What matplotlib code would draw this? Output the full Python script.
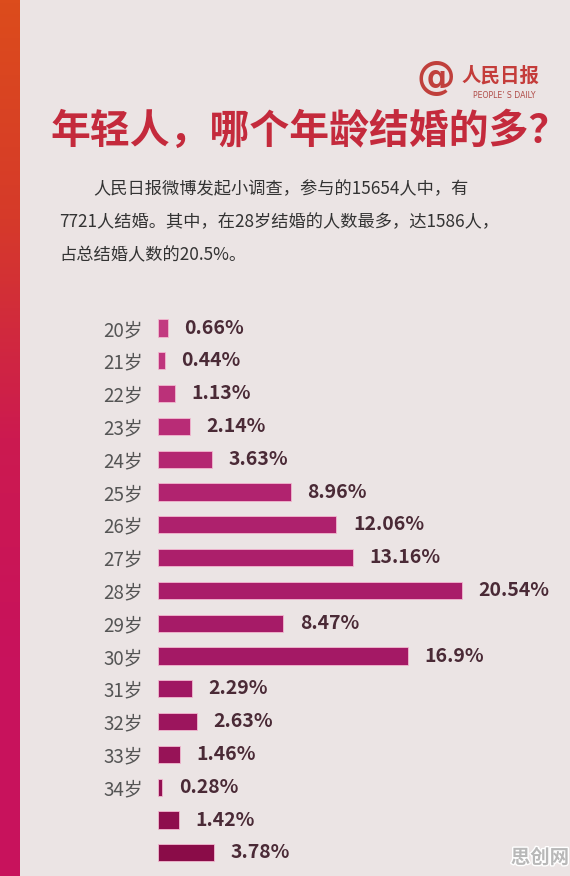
import matplotlib
matplotlib.use("Agg")
import matplotlib.pyplot as plt
import numpy as np
from matplotlib.colors import LinearSegmentedColormap
import matplotlib.patheffects as pe

plt.rcParams['font.family'] = ['Noto Sans CJK SC', 'DejaVu Sans']

categories = ["20岁", "21岁", "22岁", "23岁", "24岁", "25岁", "26岁", "27岁", "28岁",
              "29岁", "30岁", "31岁", "32岁", "33岁", "34岁", "", ""]
values = [0.66, 0.44, 1.13, 2.14, 3.63, 8.96, 12.06, 13.16, 20.54,
          8.47, 16.9, 2.29, 2.63, 1.46, 0.28, 1.42, 3.78]
value_labels = ["0.66%", "0.44%", "1.13%", "2.14%", "3.63%", "8.96%", "12.06%", "13.16%",
                "20.54%", "8.47%", "16.9%", "2.29%", "2.63%", "1.46%", "0.28%", "1.42%", "3.78%"]

title = "年轻人，哪个年龄结婚的多？"
intro_lines = ["人民日报微博发起小调查，参与的15654人中，有",
               "7721人结婚。其中，在28岁结婚的人数最多，达1586人，",
               "占总结婚人数的20.5%。"]

W, H = 570, 876
bg = "#ebe4e4"
fig = plt.figure(figsize=(W / 100, H / 100), dpi=100, facecolor=bg)

def fx(px):
    return px / W

def fy(py):
    return 1 - py / H

# left gradient strip
ax_strip = fig.add_axes([0, 0, fx(20), 1])
strip_cmap = LinearSegmentedColormap.from_list(
    "strip", ["#dc4c1c", "#d63a2a", "#cc1a50", "#c8125c", "#c8125c"])
grad = np.linspace(0, 1, 256).reshape(-1, 1)
ax_strip.imshow(grad, aspect="auto", cmap=strip_cmap, extent=[0, 1, 1, 0])
ax_strip.set_axis_off()

# title
fig.text(fx(310), fy(131), title, ha="center", va="center", fontsize=28.7,
         fontweight="heavy", color="#c42a3c")

# logo
fig.text(fx(436), fy(78), "@", ha="center", va="center", fontsize=28,
         fontweight="bold", color="#c0403c", family=["DejaVu Sans"])
fig.text(fx(500), fy(76), "人民日报", ha="center", va="center", fontsize=14,
         fontweight="heavy", color="#c43c3a")
fig.text(fx(504), fy(96), "PEOPLE' S DAILY", ha="center", va="center", fontsize=5.6,
         color="#b04c48", family=["DejaVu Sans"])

# intro paragraph
fs_intro = 12.4
fig.text(fx(93), fy(189), intro_lines[0], ha="left", va="center", fontsize=fs_intro, color="#333333")
fig.text(fx(59), fy(222), intro_lines[1], ha="left", va="center", fontsize=fs_intro, color="#333333")
fig.text(fx(59), fy(255), intro_lines[2], ha="left", va="center", fontsize=fs_intro, color="#333333")

# bar chart
n = len(values)
row0, row_step = 328, 32.8
bar_left_px, px_per_unit = 158, 14.8
ax_w_px = 400
top_px = row0 - row_step / 2
ax_h_px = row_step * n
ax = fig.add_axes([fx(bar_left_px), fy(top_px + ax_h_px), fx(ax_w_px), ax_h_px / H])
ax.set_facecolor("none")
ax.set_xlim(0, ax_w_px / px_per_unit)
ax.set_ylim(n - 0.5, -0.5)

bar_cmap = LinearSegmentedColormap.from_list("bars", ["#c23a80", "#b0226e", "#a21864", "#8a0c48"])
colors = [bar_cmap(i / (n - 1)) for i in range(n)]
y = np.arange(n)
ax.barh(y, values, height=0.53, color=colors, edgecolor="#f2b8d0", linewidth=0.6)

for yi, v, lab in zip(y, values, value_labels):
    ax.annotate(lab, xy=(v, yi), xytext=(12, 0), textcoords="offset points",
                ha="left", va="center", fontsize=14, fontweight="bold", color="#4a2a36")

ax.set_yticks(y)
ax.set_yticklabels(categories, fontsize=13.5, color="#555555")
ax.tick_params(axis="y", length=0, pad=11)
ax.set_xticks([])
for s in ax.spines.values():
    s.set_visible(False)

# watermark
fig.text(fx(540), fy(858), "思创网", ha="center", va="center", fontsize=14,
         fontweight="bold", color="#b8b8b8",
         path_effects=[pe.withStroke(linewidth=2, foreground="white")])

fig.savefig("out.png", dpi=100, facecolor=bg)
